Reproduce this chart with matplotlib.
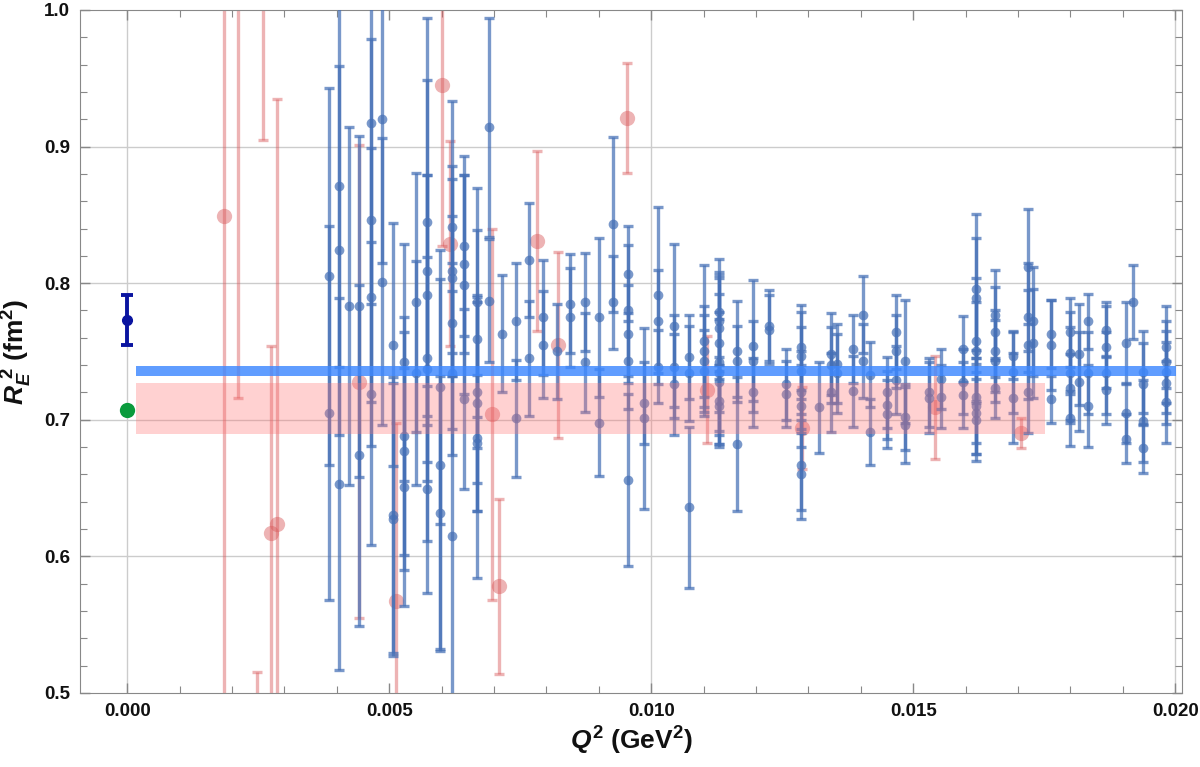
import matplotlib

matplotlib.use("Agg")
import matplotlib.pyplot as plt
from matplotlib.ticker import MultipleLocator, FormatStrFormatter

# blue data set: Q^2 (GeV^2), R_E^2 (fm^2), error
blue_q = [
    0.00386, 0.00386,
    0.00405, 0.00405, 0.00405,
    0.00424,
    0.00443, 0.00443,
    0.00466, 0.00466, 0.00466, 0.00466,
    0.00486, 0.00486,
    0.00507, 0.00507, 0.00507,
    0.00529, 0.00529, 0.00529, 0.00529,
    0.00551, 0.00551,
    0.00573, 0.00573, 0.00573, 0.00573, 0.00573, 0.00573,
    0.00597, 0.00597, 0.00597,
    0.00620, 0.00620, 0.00620, 0.00620, 0.00620, 0.00620,
    0.00643, 0.00643, 0.00643, 0.00643,
    0.00668, 0.00668, 0.00668, 0.00668, 0.00668, 0.00668,
    0.00691, 0.00691,
    0.00716,
    0.00742, 0.00742,
    0.00767, 0.00767,
    0.00794, 0.00794,
    0.00821,
    0.00845, 0.00845,
    0.00874, 0.00874,
    0.00901, 0.00901,
    0.00927, 0.00927,
    0.00956, 0.00956, 0.00956, 0.00956, 0.00956,
    0.00987, 0.00987,
    0.01013, 0.01013, 0.01013,
    0.01044, 0.01044, 0.01044,
    0.01073, 0.01073, 0.01073,
    0.01101, 0.01101, 0.01101, 0.01101,
    0.01130, 0.01130, 0.01130, 0.01130, 0.01130, 0.01130, 0.01130, 0.01130, 0.01130,
    0.01164, 0.01164, 0.01164,
    0.01195, 0.01195, 0.01195,
    0.01225, 0.01225,
    0.01258, 0.01258,
    0.01286, 0.01286, 0.01286, 0.01286, 0.01286, 0.01286, 0.01286,
    0.01321,
    0.01344, 0.01344, 0.01344,
    0.01355, 0.01355,
    0.01385, 0.01385,
    0.01405, 0.01405,
    0.01418, 0.01418,
    0.01450, 0.01450, 0.01450,
    0.01468, 0.01468, 0.01468,
    0.01485, 0.01485, 0.01485,
    0.01531, 0.01531,
    0.01553, 0.01553,
    0.01595, 0.01595, 0.01595,
    0.01620, 0.01620, 0.01620, 0.01620, 0.01620, 0.01620, 0.01620, 0.01620,
    0.01657, 0.01657, 0.01657, 0.01657, 0.01657,
    0.01691, 0.01691, 0.01691,
    0.01720, 0.01720, 0.01720, 0.01720,
    0.01729, 0.01729,
    0.01763, 0.01763, 0.01763,
    0.01800, 0.01800, 0.01800, 0.01800, 0.01800,
    0.01817, 0.01817,
    0.01834, 0.01834, 0.01834,
    0.01868, 0.01868, 0.01868, 0.01868,
    0.01907, 0.01907, 0.01907,
    0.01920,
    0.01938, 0.01938, 0.01938, 0.01938,
    0.01983, 0.01983, 0.01983, 0.01983, 0.01983,
]
blue_r = [
    0.805, 0.705,
    0.871, 0.824, 0.653,
    0.783,
    0.783, 0.674,
    0.917, 0.846, 0.790, 0.719,
    0.920, 0.801,
    0.755, 0.630, 0.627,
    0.742, 0.688, 0.677, 0.651,
    0.786, 0.734,
    0.845, 0.809, 0.791, 0.745, 0.737, 0.649,
    0.724, 0.667, 0.632,
    0.841, 0.809, 0.804, 0.771, 0.734, 0.615,
    0.827, 0.814, 0.799, 0.715,
    0.786, 0.759, 0.720, 0.712, 0.687, 0.683,
    0.914, 0.787,
    0.763,
    0.772, 0.701,
    0.817, 0.745,
    0.775, 0.755,
    0.750,
    0.785, 0.775,
    0.786, 0.742,
    0.775, 0.698,
    0.843, 0.786,
    0.807, 0.780, 0.763, 0.743, 0.656,
    0.712, 0.701,
    0.791, 0.772, 0.739,
    0.769, 0.739, 0.726,
    0.746, 0.734, 0.636,
    0.758, 0.750, 0.743, 0.736,
    0.779, 0.772, 0.767, 0.756, 0.742, 0.734, 0.728, 0.714, 0.710,
    0.750, 0.743, 0.682,
    0.754, 0.743, 0.720,
    0.769, 0.766,
    0.726, 0.719,
    0.753, 0.747, 0.736, 0.720, 0.710, 0.667, 0.660,
    0.709,
    0.748, 0.740, 0.720,
    0.741, 0.734,
    0.752, 0.721,
    0.777, 0.743,
    0.733, 0.691,
    0.720, 0.711, 0.704,
    0.764, 0.750, 0.729,
    0.743, 0.702, 0.696,
    0.720, 0.716,
    0.730, 0.717,
    0.752, 0.728, 0.718,
    0.796, 0.789, 0.758, 0.750, 0.717, 0.710, 0.705, 0.700,
    0.777, 0.764, 0.750, 0.743, 0.723,
    0.747, 0.735, 0.716,
    0.812, 0.775, 0.755, 0.720,
    0.772, 0.756,
    0.763, 0.755, 0.715,
    0.764, 0.749, 0.734, 0.723, 0.701,
    0.748, 0.728,
    0.772, 0.734, 0.710,
    0.766, 0.753, 0.734, 0.722,
    0.756, 0.705, 0.686,
    0.786,
    0.735, 0.726, 0.699, 0.679,
    0.753, 0.742, 0.735, 0.727, 0.713,
]
blue_err = [
    0.138, 0.137,
    0.132, 0.135, 0.136,
    0.131,
    0.125, 0.125,
    0.132, 0.133, 0.109, 0.111,
    0.105, 0.105,
    0.089, 0.101, 0.100,
    0.087, 0.087, 0.087, 0.087,
    0.095, 0.082,
    0.149, 0.140, 0.088, 0.134, 0.082, 0.076,
    0.100, 0.136, 0.100,
    0.092, 0.077, 0.072, 0.078, 0.060, 0.200,
    0.066, 0.065, 0.080, 0.066,
    0.084, 0.080, 0.066, 0.079, 0.103, 0.050,
    0.080, 0.045,
    0.043,
    0.043, 0.043,
    0.042, 0.042,
    0.042, 0.039,
    0.035,
    0.036, 0.036,
    0.036, 0.036,
    0.058, 0.039,
    0.064, 0.034,
    0.035, 0.048, 0.036, 0.035, 0.063,
    0.030, 0.066,
    0.065, 0.038, 0.027,
    0.060, 0.038, 0.037,
    0.031, 0.035, 0.059,
    0.055, 0.033, 0.034, 0.030,
    0.039, 0.036, 0.037, 0.050, 0.050, 0.045, 0.046, 0.032, 0.030,
    0.037, 0.026, 0.049,
    0.048, 0.029, 0.025,
    0.026, 0.025,
    0.026, 0.024,
    0.031, 0.032, 0.032, 0.030, 0.030, 0.033, 0.033,
    0.033,
    0.030, 0.028, 0.029,
    0.029, 0.029,
    0.025, 0.026,
    0.028, 0.027,
    0.024, 0.024,
    0.026, 0.025, 0.025,
    0.027, 0.027, 0.025,
    0.045, 0.024, 0.028,
    0.025, 0.026,
    0.022, 0.023,
    0.024, 0.024, 0.024,
    0.055, 0.044, 0.046, 0.036, 0.034, 0.035, 0.030, 0.030,
    0.033, 0.033, 0.030, 0.030, 0.022,
    0.017, 0.030, 0.033,
    0.042, 0.040, 0.040, 0.030,
    0.040, 0.040,
    0.025, 0.033, 0.017,
    0.025, 0.030, 0.034, 0.025, 0.020,
    0.037, 0.036,
    0.020, 0.030, 0.030,
    0.020, 0.030, 0.030, 0.025,
    0.030, 0.022, 0.018,
    0.027,
    0.030, 0.030, 0.030, 0.018,
    0.030, 0.030, 0.030, 0.030, 0.030,
]

# red data set
red_q = [0.00185, 0.00212, 0.00260, 0.00248, 0.00275, 0.00286, 0.00443,
         0.00513, 0.00600, 0.00616, 0.00697, 0.00710, 0.00782, 0.00822,
         0.00954, 0.01107, 0.01288, 0.01542, 0.01706]
red_r = [0.849, 1.150, 1.200, 0.400, 0.617, 0.624, 0.728,
         0.567, 0.945, 0.829, 0.704, 0.578, 0.831, 0.755,
         0.921, 0.722, 0.694, 0.709, 0.690]
red_err = [0.500, 0.434, 0.295, 0.115, 0.137, 0.311, 0.173,
           0.131, 0.118, 0.075, 0.136, 0.064, 0.066, 0.068,
           0.040, 0.039, 0.030, 0.038, 0.011]

# extrapolated radii at Q^2 = 0
fit_value, fit_err = 0.773, 0.018
green_value = 0.707

# fitted bands (lower, upper) and their Q^2 extent
blue_band = (0.7321, 0.7394)
blue_band_q = (0.00017, 0.02002)
red_band = (0.6896, 0.7269)
red_band_q = (0.00017, 0.01752)

plt.rcParams["mathtext.fontset"] = "custom"
plt.rcParams["mathtext.it"] = "Liberation Sans:italic:bold"
plt.rcParams["mathtext.rm"] = "Liberation Sans:bold"
plt.rcParams["mathtext.bf"] = "Liberation Sans:bold"

fig = plt.figure(figsize=(12, 7.67), dpi=100)
ax = fig.add_axes([0.0667, 0.0965, 0.9183, 0.8905])

for g in (0.0, 0.01, 0.02):
    ax.axvline(g, color="#cccccc", lw=1, zorder=0)
for g in (0.6, 0.7, 0.8, 0.9):
    ax.axhline(g, color="#cccccc", lw=1, zorder=0)

# error bars and markers drawn separately so the caps keep their width
ax.errorbar(red_q, red_r, yerr=red_err, fmt="none", ecolor="#d9585a",
            alpha=0.45, elinewidth=2.4, capsize=3.6, capthick=2.4, zorder=2)
ax.plot(red_q, red_r, "o", color="#d9585a", alpha=0.45, ms=11, mew=0,
        zorder=2)
ax.errorbar(blue_q, blue_r, yerr=blue_err, fmt="none", ecolor="#4670b6",
            alpha=0.72, elinewidth=2.4, capsize=3.6, capthick=2.4, zorder=3)
ax.plot(blue_q, blue_r, "o", color="#4670b6", alpha=0.72, ms=7, mew=0,
        zorder=3)

ax.errorbar([0.0], [fit_value], yerr=[fit_err], fmt="o", color="#0a14a0",
            ms=7, elinewidth=2.8, capsize=4, capthick=2.8, zorder=5)
ax.plot([0.0], [green_value], "o", color="#0a9a3c", ms=11, mew=0, zorder=5)

ax.fill_between(red_band_q, red_band[0], red_band[1], color="#ff7070",
                alpha=0.32, lw=0, zorder=4)
ax.fill_between(blue_band_q, blue_band[0], blue_band[1], color="#3d88ff",
                alpha=0.82, lw=0, zorder=4)

ax.set_xlim(-0.0009, 0.02013)
ax.set_ylim(0.5, 1.0)
ax.xaxis.set_major_locator(MultipleLocator(0.005))
ax.xaxis.set_minor_locator(MultipleLocator(0.001))
ax.yaxis.set_major_locator(MultipleLocator(0.1))
ax.yaxis.set_minor_locator(MultipleLocator(0.02))
ax.xaxis.set_major_formatter(FormatStrFormatter("%.3f"))
ax.yaxis.set_major_formatter(FormatStrFormatter("%.1f"))
ax.tick_params(which="both", direction="in", top=True, right=True,
               color="#888888", labelcolor="#111111", labelsize=13.5, pad=7)
ax.tick_params(which="major", length=7, width=1)
ax.tick_params(which="minor", length=5, width=0.8)
for lab in ax.get_xticklabels() + ax.get_yticklabels():
    lab.set_fontfamily("Liberation Sans")
    lab.set_fontweight("bold")
for sp in ax.spines.values():
    sp.set_color("#888888")

ax.set_xlabel(r"$Q^2$ (GeV$^2$)", fontsize=19, fontweight="bold",
              family="Liberation Sans", color="#111111", labelpad=4)
ax.set_ylabel(r"$R_E^{\ 2}$ (fm$^2$)", fontsize=19, fontweight="bold",
              family="Liberation Sans", color="#111111", labelpad=7)

fig.savefig("out.png", dpi=100)
